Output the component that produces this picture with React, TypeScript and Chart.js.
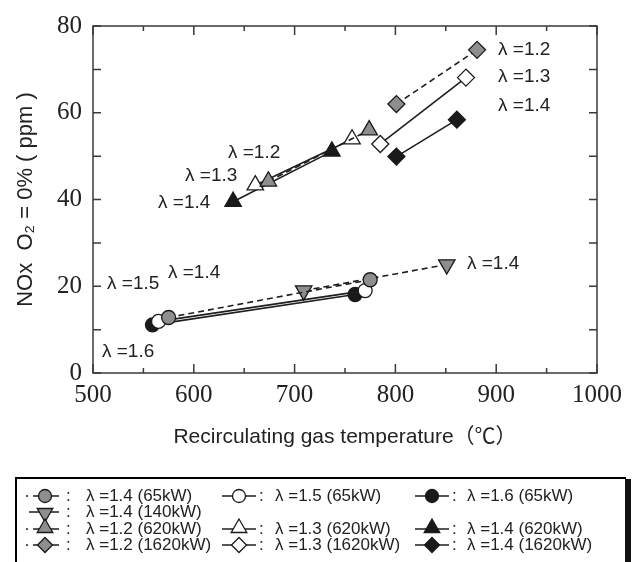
import React, { useEffect, useRef } from "react";
import { Chart, registerables } from "chart.js";
Chart.register(...registerables);

// ---- axis settings ----
const X_MIN = 500;
const X_MAX = 1000;
const Y_MIN = 0;
const Y_MAX = 80;
const xTickValues = [500, 600, 700, 800, 900, 1000];
const yTickValues = [0, 20, 40, 60, 80];
const xMinorStep = 50;
const yMinorStep = 10;

// ---- series (x: recirculating gas temperature ℃, y: NOx ppm) ----
const temp_l14_65 = [575, 775];
const nox_l14_65 = [12.8, 21.5];
const temp_l15_65 = [565, 770];
const nox_l15_65 = [11.9, 19.0];
const temp_l16_65 = [559, 760];
const nox_l16_65 = [11.1, 18.1];
const temp_l14_140 = [709, 851];
const nox_l14_140 = [19.0, 25.0];
const temp_l12_620 = [674, 774];
const nox_l12_620 = [44.2, 56.0];
const temp_l13_620 = [661, 757];
const nox_l13_620 = [43.3, 53.9];
const temp_l14_620 = [639, 737];
const nox_l14_620 = [39.5, 51.1];
const temp_l12_1620 = [801, 881];
const nox_l12_1620 = [62.0, 74.5];
const temp_l13_1620 = [785, 870];
const nox_l13_1620 = [52.8, 68.1];
const temp_l14_1620 = [801, 861];
const nox_l14_1620 = [49.9, 58.4];

// ---- legend labels ----
const seriesLabels = [
  "λ =1.4 (65kW)",
  "λ =1.5 (65kW)",
  "λ =1.6 (65kW)",
  "λ =1.4 (140kW)",
  "λ =1.2 (620kW)",
  "λ =1.3 (620kW)",
  "λ =1.4 (620kW)",
  "λ =1.2 (1620kW)",
  "λ =1.3 (1620kW)",
  "λ =1.4 (1620kW)",
];

// ---- annotations in data coordinates ----
const annotText = ["λ =1.2", "λ =1.3", "λ =1.4", "λ =1.2", "λ =1.3", "λ =1.4", "λ =1.5", "λ =1.4", "λ =1.6", "λ =1.4"];
const annotX = [901.8, 901.8, 901.8, 633.9, 591.3, 564.5, 513.9, 574.4, 508.9, 871];
const annotY = [74.5, 68.2, 61.6, 50.7, 45.5, 39.3, 20.5, 23.0, 4.8, 25.2];

const GRAY = "#8e8e8e";
const WHITE = "#ffffff";
const BLACK = "#1a1a1a";
const LINE = "#1e1e1e";
const SANS = '"Liberation Sans", Arial, "Noto Sans CJK JP", sans-serif';
const SERIF = '"Liberation Serif", "Times New Roman", serif';

type Meta = { shape: string; fill: string; dashed: boolean; col: number; row: number; legendDot: boolean };
const metas: Meta[] = [
  { shape: "circle", fill: GRAY, dashed: true, col: 0, row: 0, legendDot: true },
  { shape: "circle", fill: WHITE, dashed: false, col: 1, row: 0, legendDot: false },
  { shape: "circle", fill: BLACK, dashed: false, col: 2, row: 0, legendDot: false },
  { shape: "down", fill: GRAY, dashed: true, col: 0, row: 1, legendDot: false },
  { shape: "triangle", fill: GRAY, dashed: true, col: 0, row: 2, legendDot: true },
  { shape: "triangle", fill: WHITE, dashed: false, col: 1, row: 2, legendDot: false },
  { shape: "triangle", fill: BLACK, dashed: false, col: 2, row: 2, legendDot: false },
  { shape: "diamond", fill: GRAY, dashed: true, col: 0, row: 3, legendDot: true },
  { shape: "diamond", fill: WHITE, dashed: false, col: 1, row: 3, legendDot: false },
  { shape: "diamond", fill: BLACK, dashed: false, col: 2, row: 3, legendDot: false },
];
const seriesX = [temp_l14_65, temp_l15_65, temp_l16_65, temp_l14_140, temp_l12_620, temp_l13_620, temp_l14_620, temp_l12_1620, temp_l13_1620, temp_l14_1620];
const seriesY = [nox_l14_65, nox_l15_65, nox_l16_65, nox_l14_140, nox_l12_620, nox_l13_620, nox_l14_620, nox_l12_1620, nox_l13_1620, nox_l14_1620];

function drawMarker(ctx: CanvasRenderingContext2D, shape: string, x: number, y: number, r: number, fill: string) {
  ctx.save();
  ctx.setLineDash([]);
  ctx.beginPath();
  if (shape === "circle") {
    ctx.arc(x, y, r, 0, Math.PI * 2);
  } else if (shape === "triangle" || shape === "down") {
    const s = shape === "down" ? -1 : 1;
    for (let k = 0; k < 3; k++) {
      const a = (k * 2 * Math.PI) / 3;
      const px = x + Math.sin(a) * r;
      const py = y - s * Math.cos(a) * r;
      if (k === 0) ctx.moveTo(px, py);
      else ctx.lineTo(px, py);
    }
    ctx.closePath();
  } else {
    ctx.moveTo(x, y - r);
    ctx.lineTo(x + r, y);
    ctx.lineTo(x, y + r);
    ctx.lineTo(x - r, y);
    ctx.closePath();
  }
  ctx.fillStyle = fill;
  ctx.fill();
  ctx.lineWidth = 1.3;
  ctx.strokeStyle = BLACK;
  ctx.stroke();
  ctx.restore();
}

const framePlugin = {
  id: "frame",
  beforeDatasetsDraw(chart: any) {
    const { ctx, chartArea: a, scales } = chart;
    const xs = scales.x;
    const ys = scales.y;
    ctx.save();
    ctx.setLineDash([]);
    ctx.strokeStyle = "#3a3a3a";
    ctx.lineWidth = 1.5;
    ctx.strokeRect(a.left, a.top, a.right - a.left, a.bottom - a.top);
    ctx.beginPath();
    for (let v = X_MIN; v <= X_MAX; v += xMinorStep) {
      const px = xs.getPixelForValue(v);
      const len = v % 100 === 0 ? 9 : 5;
      ctx.moveTo(px, a.bottom);
      ctx.lineTo(px, a.bottom - len);
      ctx.moveTo(px, a.top);
      ctx.lineTo(px, a.top + len);
    }
    for (let v = Y_MIN; v <= Y_MAX; v += yMinorStep) {
      const py = ys.getPixelForValue(v);
      const len = 8;
      ctx.moveTo(a.left, py);
      ctx.lineTo(a.left + len, py);
      ctx.moveTo(a.right, py);
      ctx.lineTo(a.right - len, py);
    }
    ctx.stroke();
    ctx.restore();
  },
  afterDraw(chart: any) {
    const { ctx, scales } = chart;
    const xs = scales.x;
    const ys = scales.y;
    ctx.save();
    ctx.setLineDash([]);
    // annotations
    ctx.fillStyle = "#222";
    ctx.font = `19px ${SANS}`;
    ctx.textAlign = "left";
    ctx.textBaseline = "middle";
    for (let i = 0; i < annotText.length; i++) {
      ctx.fillText(annotText[i], xs.getPixelForValue(annotX[i]), ys.getPixelForValue(annotY[i]));
    }
    ctx.restore();
  },
};

const legendPlugin = {
  id: "boxLegend",
  afterDraw(chart: any) {
    const ctx: CanvasRenderingContext2D = chart.ctx;
    const H = chart.height;
    ctx.save();
    ctx.setLineDash([]);
    ctx.globalAlpha = 1;
    ctx.fillStyle = "#000000";
    ctx.fillRect(15, 477, 611, 2);
    ctx.fillRect(15, 477, 2, H - 477);
    ctx.fillStyle = "#111111";
    ctx.fillRect(625, 479, 6, H - 479);

    const rowY = [496, 512, 529, 545];
    const colStart = [26, 222, 415];
    const colColon = [66, 259, 452];
    const colText = [86, 275, 467];
    ctx.font = `17px ${SANS}`;
    ctx.textBaseline = "middle";
    for (let i = 0; i < metas.length; i++) {
      const m = metas[i];
      const y = rowY[m.row];
      const x0 = colStart[m.col];
      const mx = x0 + 19;
      ctx.strokeStyle = LINE;
      ctx.lineWidth = 1.6;
      ctx.beginPath();
      if (m.col === 0) {
        if (m.legendDot) {
          ctx.moveTo(x0, y);
          ctx.lineTo(x0 + 2, y);
          ctx.moveTo(x0 + 7, y);
          ctx.lineTo(x0 + 14, y);
        } else {
          ctx.moveTo(x0 + 3, y);
          ctx.lineTo(x0 + 14, y);
        }
        ctx.moveTo(x0 + 24, y);
        ctx.lineTo(x0 + 33, y);
      } else {
        ctx.moveTo(x0, y);
        ctx.lineTo(x0 + 34, y);
      }
      ctx.stroke();
      const r = m.shape === "circle" ? 6.5 : m.shape === "diamond" ? 7.5 : 9;
      const yy = m.shape === "triangle" ? y - 1 : m.shape === "down" ? y + 1 : y;
      drawMarker(ctx, m.shape, mx + (m.col === 0 ? 0 : -2), yy, r, m.fill);
      ctx.fillStyle = "#222";
      ctx.textAlign = "left";
      ctx.fillText(":", colColon[m.col], y);
      ctx.fillText(seriesLabels[i], colText[m.col], y);
    }
    ctx.restore();
  },
};

function pointStyleFor(shape: string) {
  if (shape === "circle") return "circle";
  if (shape === "diamond") return "rectRot";
  return "triangle";
}

export default function App() {
  const ref = useRef<HTMLCanvasElement | null>(null);
  useEffect(() => {
    if (!ref.current) return;
    const datasets = metas.map((m, i) => ({
      label: seriesLabels[i],
      data: seriesX[i].map((xv, j) => ({ x: xv, y: seriesY[i][j] })),
      showLine: true,
      borderColor: LINE,
      borderWidth: 1.6,
      borderDash: m.dashed ? [6, 4] : [],
      pointStyle: pointStyleFor(m.shape),
      pointRotation: m.shape === "down" ? 180 : 0,
      pointRadius: m.shape === "circle" ? 7 : m.shape === "diamond" ? 8.5 : 9.5,
      pointBackgroundColor: m.fill,
      pointBorderColor: BLACK,
      pointBorderWidth: 1.3,
      fill: false,
    }));
    const chart = new Chart(ref.current, {
      type: "scatter",
      data: { datasets },
      options: {
        animation: false,
        responsive: false,
        devicePixelRatio: 1,
        layout: { padding: { left: 13, top: 21, right: 40, bottom: 112 } },
        plugins: { legend: { display: false }, tooltip: { enabled: false } },
        scales: {
          x: {
            type: "linear",
            min: X_MIN,
            max: X_MAX,
            afterBuildTicks: (s: any) => {
              s.ticks = xTickValues.map((v) => ({ value: v }));
            },
            afterFit: (s: any) => {
              s.height = 77;
            },
            ticks: {
              font: { family: SERIF, size: 25 },
              color: "#222",
              padding: 7,
              maxRotation: 0,
              autoSkip: false,
              callback: (v: any) => String(v),
            },
            grid: { display: false, drawTicks: false },
            border: { display: false },
            title: {
              display: true,
              text: "Recirculating gas temperature（℃）",
              font: { family: SANS, size: 21 },
              color: "#222",
              padding: 0,
            },
          },
          y: {
            type: "linear",
            min: Y_MIN,
            max: Y_MAX,
            afterBuildTicks: (s: any) => {
              s.ticks = yTickValues.map((v) => ({ value: v }));
            },
            afterFit: (s: any) => {
              s.width = 80;
            },
            ticks: {
              font: { family: SERIF, size: 25 },
              color: "#222",
              padding: 11,
              autoSkip: false,
              callback: (v: any) => String(v),
            },
            grid: { display: false, drawTicks: false },
            border: { display: false },
            title: {
              display: true,
              text: "NOx  O₂ = 0% ( ppm )",
              font: { family: SANS, size: 22 },
              color: "#222",
              padding: 0,
            },
          },
        },
      },
      plugins: [framePlugin, legendPlugin],
    });
    return () => chart.destroy();
  }, []);
  return (
    <div style={{ position: "absolute", left: 0, top: 0, width: 637, height: 562, background: "#fff" }}>
      <canvas ref={ref} width={637} height={562} style={{ display: "block" }} />
    </div>
  );
}
